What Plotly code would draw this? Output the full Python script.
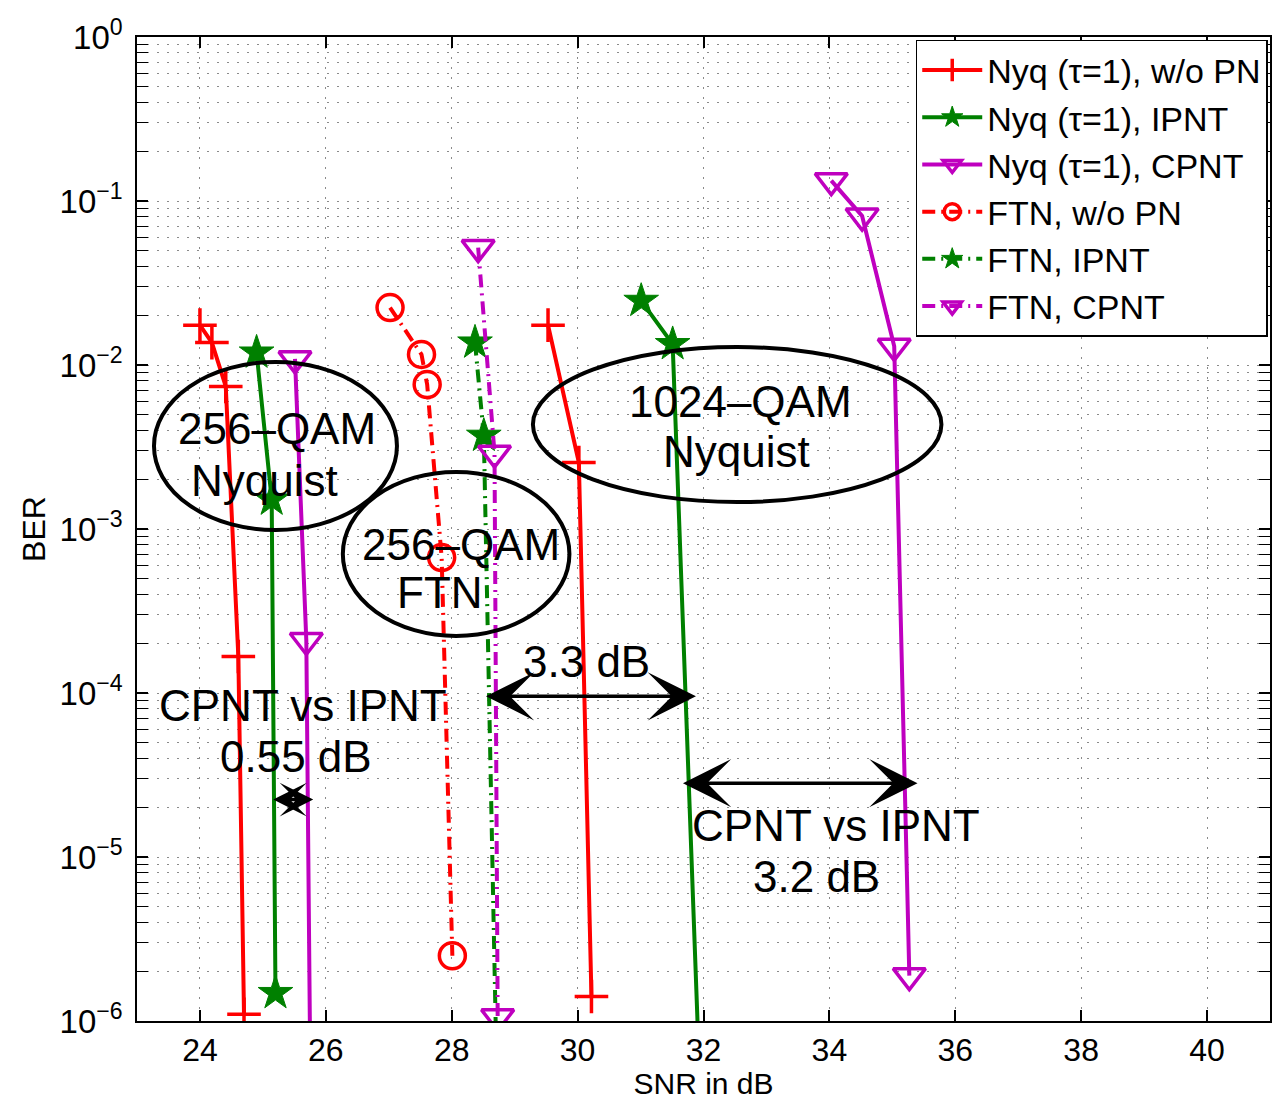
import plotly.graph_objects as go

# ---- BER curves (SNR in dB, BER) ----
# 256-QAM Nyquist (tau = 1)
nyq256_wopn_snr = [24.0, 24.19, 24.41, 24.61, 24.70]
nyq256_wopn_ber = [1.75e-2, 1.37e-2, 7.4e-3, 1.67e-4, 1.1e-6]
nyq256_ipnt_snr = [24.90, 25.14, 25.20]
nyq256_ipnt_ber = [1.19e-2, 1.51e-3, 1.48e-6]
nyq256_cpnt_snr = [25.51, 25.69, 25.77]
nyq256_cpnt_ber = [1.09e-2, 2.09e-4, 1.0e-7]

# 256-QAM FTN
ftn_wopn_snr = [27.02, 27.52, 27.61, 27.84, 28.01]
ftn_wopn_ber = [2.24e-2, 1.16e-2, 7.6e-3, 6.7e-4, 2.5e-6]
ftn_ipnt_snr = [28.37, 28.51, 28.75]
ftn_ipnt_ber = [1.37e-2, 3.7e-3, 1.0e-7]
ftn_cpnt_snr = [28.42, 28.68, 28.73]
ftn_cpnt_ber = [5.2e-2, 2.9e-3, 1.06e-6]

# 1024-QAM Nyquist
nyq1024_wopn_snr = [29.53, 30.02, 30.22]
nyq1024_wopn_ber = [1.75e-2, 2.54e-3, 1.41e-6]
nyq1024_ipnt_snr = [31.01, 31.51, 32.0]
nyq1024_ipnt_ber = [2.46e-2, 1.34e-2, 1.0e-7]
nyq1024_cpnt_snr = [34.03, 34.52, 35.03, 35.27]
nyq1024_cpnt_ber = [0.133, 0.081, 1.3e-2, 1.89e-6]

legend_names = [
    "Nyq (\u03c4=1), w/o PN",
    "Nyq (\u03c4=1), IPNT",
    "Nyq (\u03c4=1), CPNT",
    "FTN, w/o PN",
    "FTN, IPNT",
    "FTN, CPNT",
]

x_ticks = [24, 26, 28, 30, 32, 34, 36, 38, 40]
y_exponents = [-6, -5, -4, -3, -2, -1, 0]

RED = "#ff0000"
GREEN = "#008000"
MAGENTA = "#bf00bf"
FONT = "Liberation Sans, Arial, Helvetica, sans-serif"
DASHDOT = "13px,6px,2px,6px"
LW = 4

styles = {
    "wopn": dict(color=RED, marker=dict(symbol="cross-thin", size=24,
                                        line=dict(width=3.5, color=RED))),
    "ipnt": dict(color=GREEN, marker=dict(symbol="star", size=26, color=GREEN,
                                          line=dict(width=1, color=GREEN))),
    "cpnt": dict(color=MAGENTA, marker=dict(symbol="triangle-down-open", size=28,
                                            color=MAGENTA,
                                            line=dict(width=3.5, color=MAGENTA))),
    "ftn_wopn": dict(color=RED, marker=dict(symbol="circle-open", size=26, color=RED,
                                            line=dict(width=3.5, color=RED))),
}
styles["ftn_ipnt"] = styles["ipnt"]
styles["ftn_cpnt"] = styles["cpnt"]

series = [
    (nyq256_wopn_snr, nyq256_wopn_ber, "wopn", "solid", legend_names[0], True),
    (nyq256_ipnt_snr, nyq256_ipnt_ber, "ipnt", "solid", legend_names[1], True),
    (nyq256_cpnt_snr, nyq256_cpnt_ber, "cpnt", "solid", legend_names[2], True),
    (ftn_wopn_snr, ftn_wopn_ber, "ftn_wopn", DASHDOT, legend_names[3], True),
    (ftn_ipnt_snr, ftn_ipnt_ber, "ftn_ipnt", DASHDOT, legend_names[4], True),
    (ftn_cpnt_snr, ftn_cpnt_ber, "ftn_cpnt", DASHDOT, legend_names[5], True),
    (nyq1024_wopn_snr, nyq1024_wopn_ber, "wopn", "solid", legend_names[0], False),
    (nyq1024_ipnt_snr, nyq1024_ipnt_ber, "ipnt", "solid", legend_names[1], False),
    (nyq1024_cpnt_snr, nyq1024_cpnt_ber, "cpnt", "solid", legend_names[2], False),
]

fig = go.Figure()
for snr, ber, key, dash, name, show in series:
    st = styles[key]
    fig.add_trace(go.Scatter(
        x=snr, y=ber, mode="lines+markers", name=name, showlegend=show,
        line=dict(color=st["color"], width=LW, dash=dash),
        marker=st["marker"], cliponaxis=True,
    ))

# Ellipses around the curve groups (data coordinates)
ellipses = [
    (23.27, 27.13, 9.86e-4, 1.043e-2),
    (26.27, 29.87, 2.23e-4, 2.23e-3),
    (29.29, 35.78, 1.46e-3, 1.288e-2),
]
for x0, x1, y0, y1 in ellipses:
    fig.add_shape(type="circle", xref="x", yref="y", x0=x0, x1=x1, y0=y0, y1=y1,
                  line=dict(color="black", width=4), layer="above")

# Text labels (y given as log10 BER)
labels = [
    ("256\u2013QAM", 25.23, -2.39),
    ("Nyquist", 25.02, -2.705),
    ("256\u2013QAM", 28.14, -3.095),
    ("FTN", 27.81, -3.39),
    ("1024\u2013QAM", 32.59, -2.223),
    ("Nyquist", 32.53, -2.53),
    ("3.3 dB", 30.14, -3.81),
    ("CPNT vs IPNT", 25.63, -4.075),
    ("0.55 dB", 25.53, -4.39),
    ("CPNT vs IPNT", 34.11, -4.81),
    ("3.2 dB", 33.80, -5.12),
]
for txt, x, ly in labels:
    fig.add_annotation(text=txt, x=x, y=ly, xref="x", yref="y", showarrow=False,
                       xanchor="center", yanchor="middle",
                       font=dict(family=FONT, size=44, color="black"))

# Double-headed gap arrows: (left SNR, right SNR, log10 BER, head scale)
gaps = [
    (28.52, 31.88, -4.02, 2.3),
    (31.65, 35.40, -4.55, 2.3),
    (25.14, 25.80, -4.65, 1.6),
]
for xl, xr, ly, sc in gaps:
    fig.add_annotation(x=xr, y=ly, ax=xl, ay=ly, xref="x", yref="y", axref="x", ayref="y",
                       text="", showarrow=True, arrowhead=3, startarrowhead=3,
                       arrowside="end+start", arrowsize=sc, startarrowsize=sc,
                       arrowwidth=3.5, arrowcolor="black", standoff=0, startstandoff=0)

minor_vals = [m * 10.0 ** e for e in y_exponents[:-1] for m in range(2, 10)]
grid_color = "#8a8a8a"
grid_dash = "2px,8px"

fig.update_xaxes(
    range=[23, 41], tickmode="array", tickvals=x_ticks,
    ticktext=[str(v) for v in x_ticks],
    ticks="inside", ticklen=11, tickwidth=1.5, tickcolor="black",
    showline=True, linecolor="black", linewidth=1.5, mirror="ticks",
    showgrid=True, gridcolor=grid_color, griddash=grid_dash, gridwidth=1,
    zeroline=False, ticklabelstandoff=0,
    tickfont=dict(family=FONT, size=32, color="black"),
    title=dict(text="SNR in dB", font=dict(family=FONT, size=30, color="black"),
               standoff=10),
)
fig.update_yaxes(
    type="log", range=[-6, 0], tickmode="array",
    tickvals=[10.0 ** e for e in y_exponents],
    ticktext=["10<sup>\u2212%d</sup>" % -e if e < 0 else "10<sup>0</sup>"
              for e in y_exponents],
    ticks="inside", ticklen=11, tickwidth=1.5, tickcolor="black",
    showline=True, linecolor="black", linewidth=1.5, mirror="ticks",
    showgrid=True, gridcolor=grid_color, griddash=grid_dash, gridwidth=1,
    zeroline=False, ticklabelstandoff=6,
    tickfont=dict(family=FONT, size=33, color="black"),
    minor=dict(tickmode="array", tickvals=minor_vals, ticks="inside", ticklen=11,
               tickwidth=1.2, tickcolor="black", showgrid=True,
               gridcolor=grid_color, griddash=grid_dash, gridwidth=1),
    title=dict(text="BER", font=dict(family=FONT, size=32, color="black"), standoff=4),
)

fig.update_layout(
    width=1272, height=1100,
    margin=dict(l=137, r=0, t=37, b=79),
    paper_bgcolor="white", plot_bgcolor="white",
    font=dict(family=FONT, color="black"),
    legend=dict(x=0.998, y=0.997, xanchor="right", yanchor="top",
                bgcolor="white", bordercolor="black", borderwidth=1.5,
                font=dict(family=FONT, size=34, color="black"),
                itemwidth=60, tracegroupgap=0),
    showlegend=True,
)

fig.write_html("out.html")
